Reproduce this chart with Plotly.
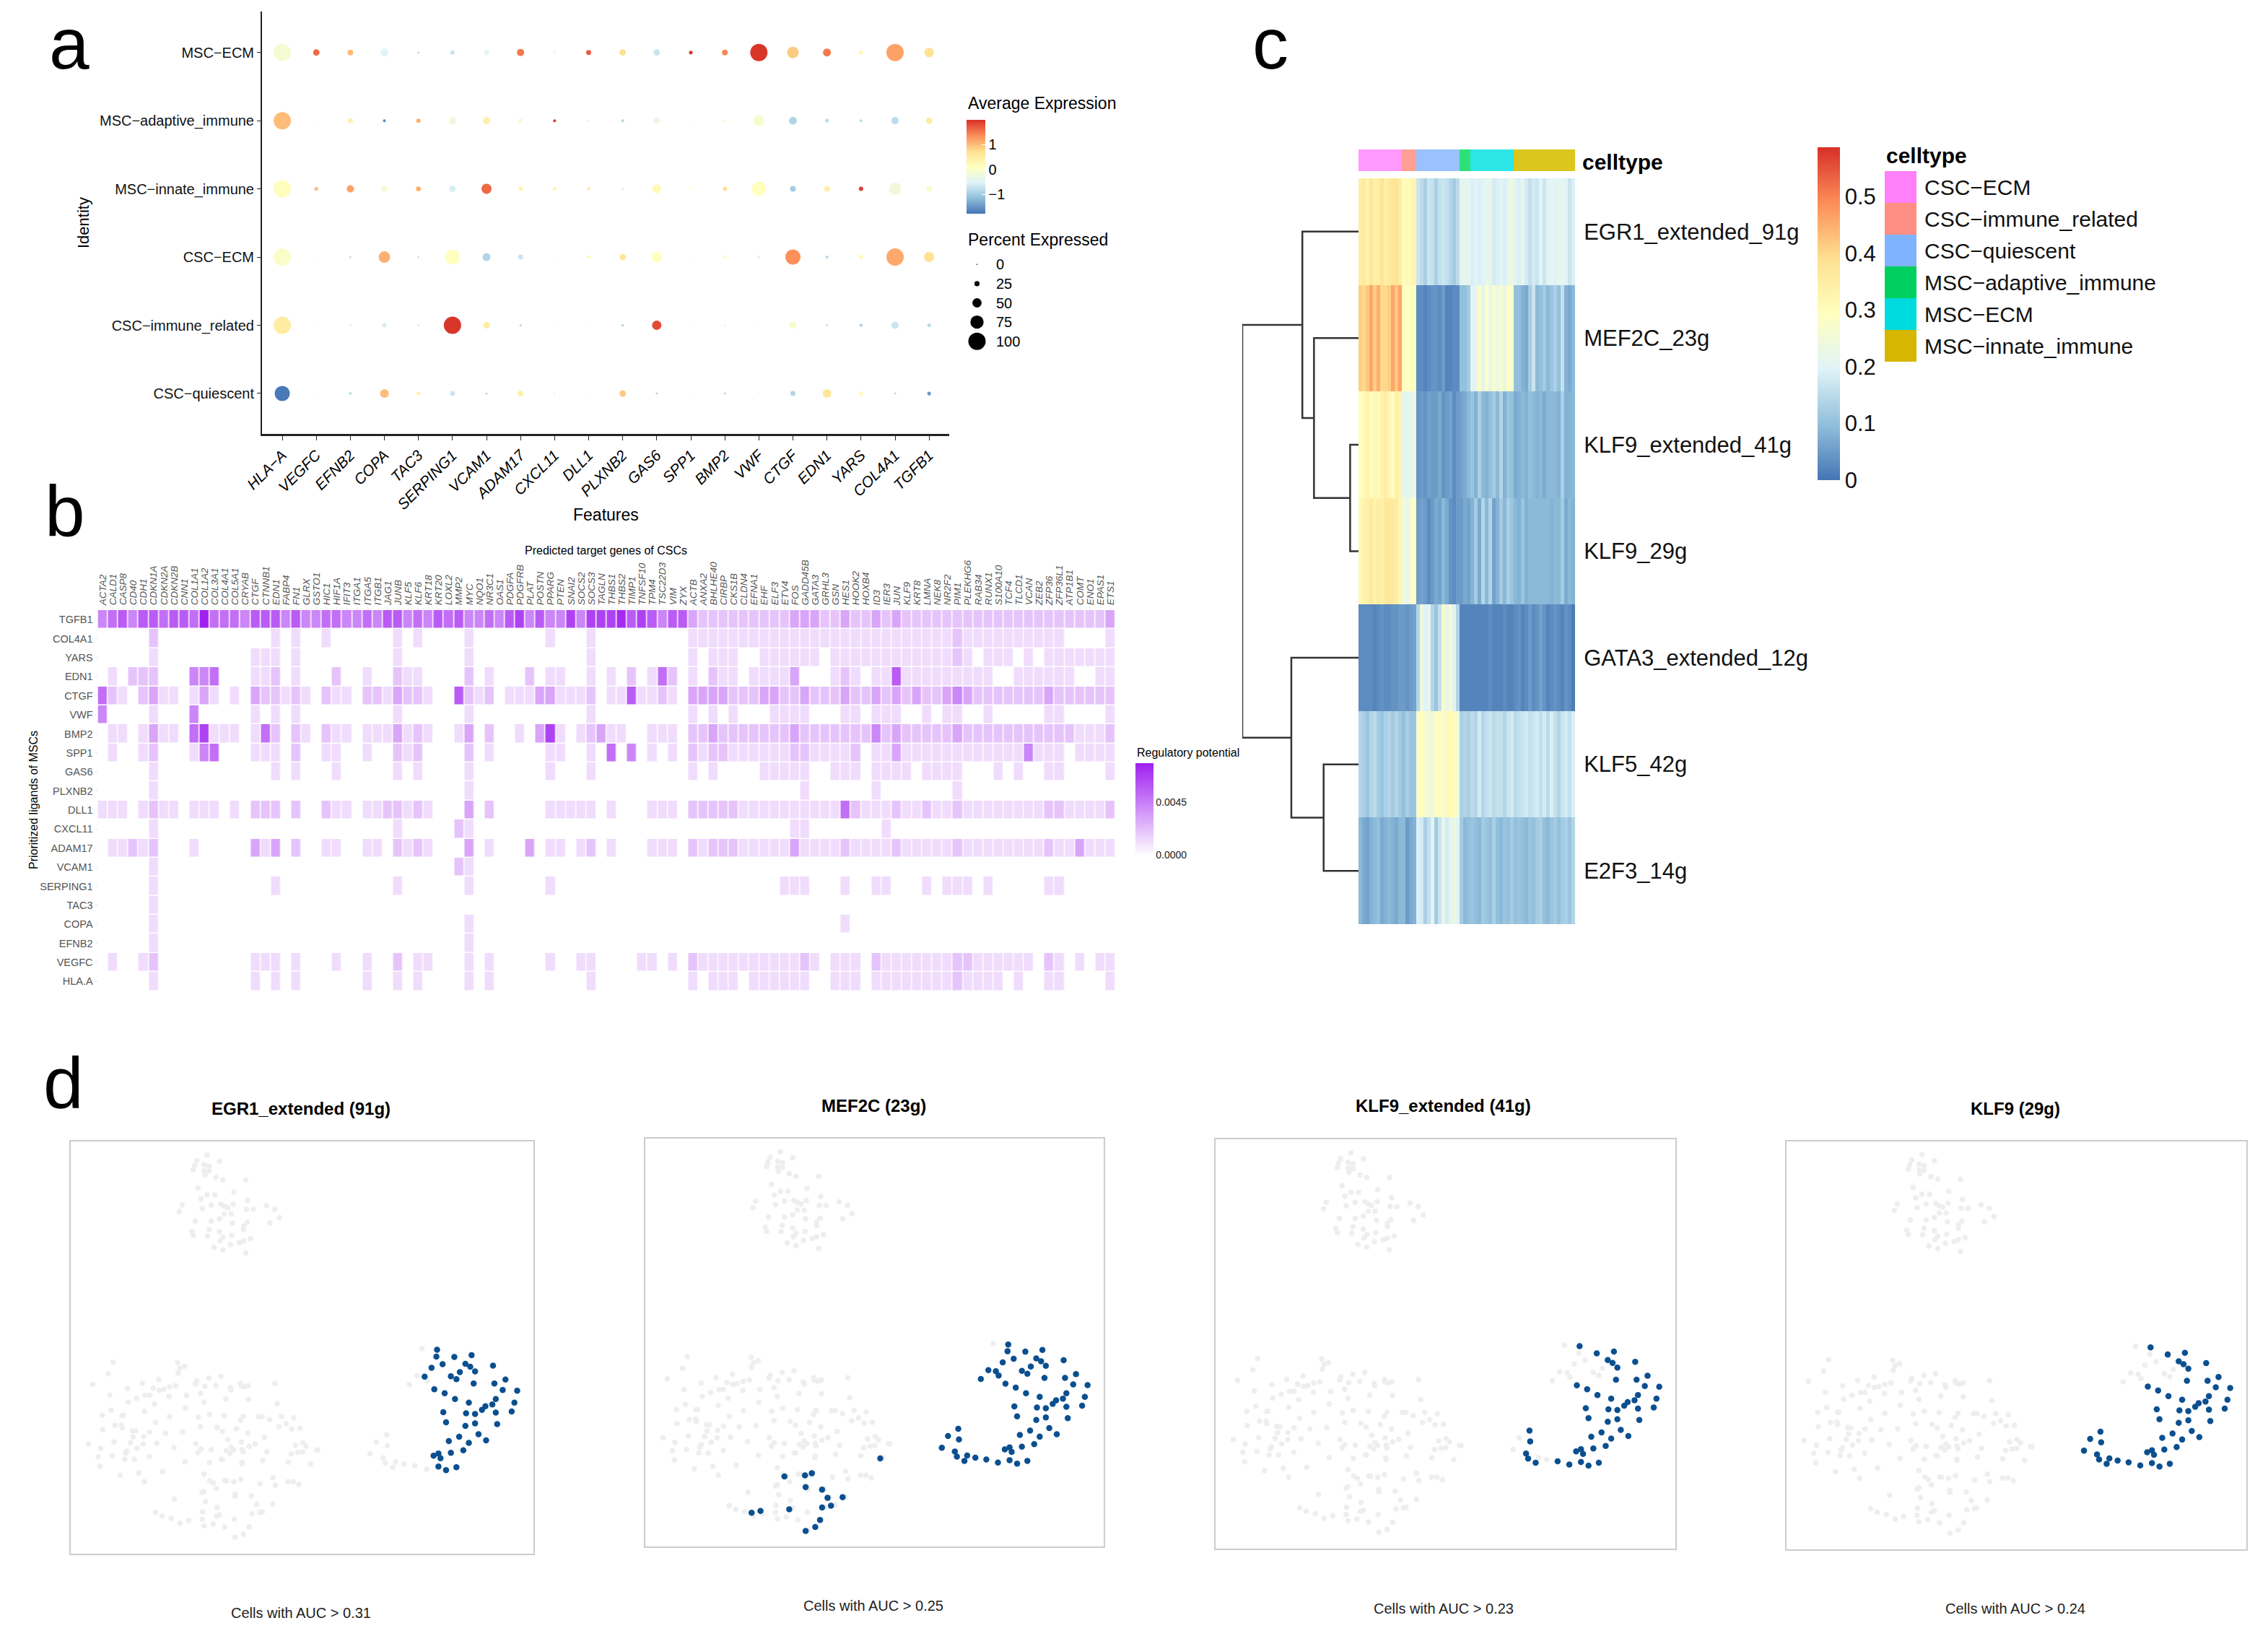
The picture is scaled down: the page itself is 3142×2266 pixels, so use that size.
import numpy as np
import plotly.graph_objects as go

W, H = 3142, 2266
FONT = "Liberation Sans"

# ---------- panel a ----------
features = ["HLA\u2212A","VEGFC","EFNB2","COPA","TAC3","SERPING1","VCAM1","ADAM17","CXCL11","DLL1","PLXNB2","GAS6","SPP1","BMP2","VWF","CTGF","EDN1","YARS","COL4A1","TGFB1"]
identities = ["CSC\u2212quiescent","CSC\u2212immune_related","CSC\u2212ECM","MSC\u2212innate_immune","MSC\u2212adaptive_immune","MSC\u2212ECM"]
pct_msc_ecm = [100,33,29,42,7,20,24,38,7,24,33,33,16,29,100,64,42,20,100,51]
pct_msc_ada = [100,2,24,11,20,38,38,20,11,7,11,33,2,11,60,42,16,11,38,33]
pct_msc_inn = [100,16,38,33,24,33,56,20,16,11,7,47,7,20,82,29,29,20,69,29]
pct_csc_ecm = [100,2,7,64,7,87,42,24,2,16,33,60,2,16,11,87,11,20,100,56]
pct_csc_imm = [100,2,7,20,7,100,33,7,2,2,7,51,2,7,2,38,7,11,38,16]
pct_csc_qui = [87,2,11,47,16,24,7,29,7,2,33,7,2,7,2,24,47,20,7,16]
exp_msc_ecm = [-0.1,1.6,1.0,-0.5,-0.8,-0.7,-0.5,1.5,-0.5,1.7,0.7,-0.7,1.95,1.4,1.95,0.9,1.5,0.2,1.2,0.7]
exp_msc_ada = [1.0,-0.3,0.4,-1.6,1.1,-0.2,0.4,-0.1,1.95,-0.5,-0.9,-0.3,0.0,0.0,-0.05,-0.9,-0.8,-0.8,-0.8,0.5]
exp_msc_inn = [0.15,1.0,1.2,-0.1,1.1,-0.6,1.6,0.3,0.3,0.6,-0.6,0.2,0.2,0.7,0.1,-1.0,0.4,1.9,-0.2,-0.05]
exp_csc_ecm = [0.0,-0.3,-0.8,1.1,-0.7,0.1,-0.9,-0.7,-0.3,0.2,0.6,0.1,0.0,0.0,-0.5,1.35,-0.9,0.2,1.15,0.7]
exp_csc_imm = [0.5,-0.2,-0.6,-0.6,-0.6,1.95,0.5,-0.9,-0.2,-0.3,-1.0,1.8,-0.1,-0.5,-0.3,-0.05,-0.7,-1.0,-0.7,-0.8]
exp_csc_qui = [-1.75,-0.2,-0.8,1.0,0.4,-0.7,-0.9,0.4,-0.3,-0.3,0.9,-0.9,-0.1,-0.9,-0.4,-0.9,0.6,0.2,-0.8,-1.5]
pct_rows = [pct_csc_qui,pct_csc_imm,pct_csc_ecm,pct_msc_inn,pct_msc_ada,pct_msc_ecm]
exp_rows = [exp_csc_qui,exp_csc_imm,exp_csc_ecm,exp_msc_inn,exp_msc_ada,exp_msc_ecm]
size_legend = [0,25,50,75,100]

# ---------- panel b ----------
target_genes = ["ACTA2","CALD1","CASP8","CD40","CDH1","CDKN1A","CDKN2A","CDKN2B","CNN1","COL1A1","COL1A2","COL3A1","COL4A1","COL5A1","CRYAB","CTGF","CTNNB1","EDN1","FABP4","FN1","GLRX","GSTO1","HIC1","HIF1A","IFIT3","ITGA1","ITGA5","ITGB1","JAG1","JUNB","KLF5","KLF6","KRT18","KRT20","LOXL2","MMP2","MYC","NQO1","NR3C1","OAS1","PDGFA","PDGFRB","PLAT","POSTN","PPARG","PTEN","SNAI2","SOCS2","SOCS3","TAGLN","THBS1","THBS2","TIMP1","TNFSF10","TPM4","TSC22D3","VIM","ZYX","ACTB","ANXA2","BHLHE40","CIRBP","CKS1B","CLDN4","EFNA1","EHF","ELF3","ETV4","FOS","GADD45B","GATA3","GRHL3","GSN","HES1","HOOK2","HOXB4","ID3","IER3","JUN","KLF9","KRT8","LMNA","NEK8","NR2F2","PIM1","PLEKHG6","RAB34","RUNX1","S100A10","TCF4","TLCD1","VCAN","ZEB2","ZFP36","ZFP36L1","ATP1B1","COMT","ENO1","EPAS1","ETS1"]
ligands = ["TGFB1","COL4A1","YARS","EDN1","CTGF","VWF","BMP2","SPP1","GAS6","PLXNB2","DLL1","CXCL11","ADAM17","VCAM1","SERPING1","TAC3","COPA","EFNB2","VEGFC","HLA.A"]
potential_levels = [0,0.00125,0.0021,0.0032,0.0043,0.0051,0.0058,0.0067,0.0071,0.0075,0.0079]
TGFB1 = dict(enumerate([4,5,6,4,6,6,5,6,6,5,10,5,5,5,4,6,6,6,4,6,4,4,5,5,4,4,5,4,6,6,4,5,4,6,5,6,4,4,5,4,6,7,4,6,4,4,7,4,7,7,7,9,6,7,6,4,6,6,3,2,2,2,2,2,2,2,2,2,3,3,3,2,2,3,2,2,3,2,3,2,2,2,2,2,2,2,2,2,2,2,2,2,2,2,2,2,2,2,2,3]))
COL4A1 = {5:2,17:1,19:1,22:1,29:1,31:1,36:1,44:1,48:1,58:1,59:1,60:1,61:1,62:1,63:1,64:1,65:1,66:1,67:1,68:1,69:1,70:1,71:1,72:1,73:1,74:1,75:1,76:1,77:1,78:1,79:1,80:1,81:1,82:1,83:1,84:2,85:1,86:1,87:1,88:1,89:1,90:1,91:1,92:1,93:1,94:1,99:1}
YARS = {5:1,15:1,16:1,17:1,19:1,29:1,36:1,48:1,58:1,60:1,61:1,62:1,65:1,66:1,67:1,68:1,69:1,70:1,72:1,73:1,74:1,75:1,76:1,77:1,78:1,79:1,80:1,81:1,82:1,83:1,84:2,85:1,87:1,88:1,89:1,91:1,93:1,94:1,95:1,96:1,97:1,98:1,99:1}
EDN1 = {1:1,3:2,4:2,5:2,9:4,10:4,11:5,15:1,16:1,17:2,19:1,23:2,26:1,29:2,30:1,31:1,36:2,38:1,42:2,44:1,45:1,48:1,50:1,52:2,54:1,55:5,56:2,58:1,60:2,61:1,62:1,64:1,65:1,66:1,67:1,68:3,72:1,73:2,74:1,76:1,77:1,78:6,79:1,80:1,81:1,82:1,83:1,84:1,85:1,86:1,87:1,90:1,91:1,92:1,93:1,94:1,95:1,98:1,99:1}
CTGF = {0:5,1:2,2:1,4:2,5:3,6:1,7:1,9:1,10:3,11:1,13:1,15:3,16:2,17:2,18:1,19:2,20:1,22:2,23:1,24:1,26:2,27:2,28:1,29:3,30:2,31:2,32:1,35:6,36:2,37:1,38:2,40:1,41:1,42:1,43:3,44:3,45:1,46:1,47:1,48:2,50:1,51:1,52:6,53:1,54:1,55:2,56:1,58:3,59:3,60:3,61:3,62:2,63:2,64:2,65:3,66:3,67:2,68:2,69:3,70:2,71:2,72:2,73:3,74:2,75:2,76:3,77:2,78:3,79:2,80:3,81:2,82:2,83:3,84:4,85:3,86:2,87:2,88:2,89:2,90:2,91:2,92:2,93:3,94:2,95:2,96:2,97:2,98:2,99:2}
VWF = {0:4,5:1,9:4,15:1,17:1,19:1,29:1,36:1,48:1,58:1,60:1,62:1,66:1,67:1,68:1,69:1,73:1,74:1,76:1,77:1,78:1,81:1,83:1,84:1,87:1,93:1,94:1,99:1}
BMP2 = {1:1,2:1,4:1,5:3,6:1,7:1,9:5,10:7,11:1,12:1,13:1,15:1,16:5,17:2,19:2,20:1,22:2,23:1,24:1,26:1,27:1,28:1,29:3,30:1,31:2,32:1,35:1,36:3,38:2,41:1,43:3,44:7,45:1,47:1,48:2,49:3,50:1,51:1,54:1,55:1,56:1,58:2,59:2,60:3,61:2,62:2,63:2,64:2,65:2,66:2,67:2,68:3,69:2,70:2,71:2,72:2,73:2,74:2,75:2,76:4,77:2,78:3,79:2,80:2,81:2,82:2,83:2,84:3,85:2,86:2,87:2,88:2,89:2,90:2,91:2,92:2,93:2,94:2,95:2,96:1,97:1,98:1,99:2}
SPP1 = {1:1,4:1,5:2,9:1,10:4,11:5,15:1,16:1,17:1,19:2,22:1,23:1,26:1,29:2,30:1,31:2,36:2,38:1,44:1,45:1,48:1,50:5,52:4,54:1,56:1,58:2,59:1,60:2,61:2,62:1,63:1,64:1,65:1,66:1,67:1,68:2,69:2,70:1,71:1,72:1,73:1,74:2,76:1,77:1,78:3,79:1,80:1,81:1,82:1,83:1,84:1,85:1,86:1,87:1,88:1,89:1,90:1,91:4,92:1,93:1,94:1,96:1,97:1,98:1,99:1}
GAS6 = {5:1,17:1,19:1,23:1,29:1,31:1,36:1,44:1,48:1,58:1,60:1,65:1,66:1,67:1,68:1,69:1,72:1,73:1,74:1,76:1,77:1,78:1,79:1,81:1,82:1,83:1,84:1,88:1,90:1,93:1,94:1,99:1}
PLXNB2 = {5:1,36:1,69:1,76:1,84:1}
DLL1 = {0:1,1:1,2:1,4:1,5:2,6:1,7:1,9:1,10:1,11:1,13:1,15:2,16:2,17:2,19:2,22:2,23:1,24:1,26:1,27:1,28:2,29:2,30:1,31:2,32:1,36:3,38:2,44:1,45:1,46:1,47:1,48:1,50:1,54:1,55:1,56:1,58:2,59:2,60:2,61:2,62:2,63:1,64:1,65:1,66:1,67:1,68:1,69:1,70:1,71:1,72:1,73:5,74:2,75:1,76:1,77:1,78:2,79:1,80:1,81:2,82:1,83:1,84:2,85:1,86:1,87:1,88:1,89:1,90:1,91:1,92:1,93:2,94:2,95:1,96:1,97:1,98:1,99:2}
CXCL11 = {5:1,29:1,35:2,36:1,68:1,69:1,77:1}
ADAM17 = {1:1,2:1,3:2,4:1,5:2,9:1,15:3,16:1,17:3,19:2,22:1,23:1,26:1,27:1,29:2,30:1,31:2,32:1,36:3,38:1,42:3,44:1,45:1,47:1,48:2,50:1,54:1,55:1,56:1,58:2,59:1,60:2,61:2,62:2,63:1,64:1,65:1,66:1,67:1,68:3,69:1,70:1,71:1,72:1,73:2,74:1,75:1,76:1,77:1,78:2,79:1,80:1,81:1,82:1,83:1,84:2,85:1,86:1,87:1,88:1,89:1,90:1,91:1,92:1,93:2,94:1,95:1,96:3,97:1,98:1,99:1}
VCAM1 = {5:1,35:2,36:1}
SERPING1 = {5:1,17:1,29:1,36:1,44:1,67:1,68:1,69:1,73:1,76:1,77:1,81:1,83:1,84:1,85:1,87:1,93:1,94:1}
TAC3 = {5:1}
COPA = {5:1,36:1,73:1}
EFNB2 = {5:1,36:1}
VEGFC = {1:1,4:1,5:2,15:1,16:1,17:1,19:1,23:1,26:1,29:2,31:1,32:1,36:1,38:1,44:1,47:1,48:1,53:1,54:1,56:1,58:2,59:1,60:1,61:1,62:1,63:1,64:1,65:1,66:1,67:1,68:1,69:2,70:1,72:1,73:1,74:1,76:2,77:1,78:1,79:1,80:1,81:1,82:1,83:1,84:2,85:2,86:1,87:1,88:1,89:1,90:1,91:1,93:2,94:1,96:1,98:1,99:1}
HLA_A = {5:1,15:1,17:1,19:1,26:1,29:1,31:1,36:1,38:1,48:1,58:1,60:1,61:1,62:1,64:1,65:1,66:1,67:1,68:1,69:1,72:1,73:1,74:1,76:1,77:1,78:1,79:1,80:1,81:1,82:1,83:1,84:2,85:1,86:1,87:1,88:1,90:1,93:1,94:1,99:1}
ligand_rows = [TGFB1,COL4A1,YARS,EDN1,CTGF,VWF,BMP2,SPP1,GAS6,PLXNB2,DLL1,CXCL11,ADAM17,VCAM1,SERPING1,TAC3,COPA,EFNB2,VEGFC,HLA_A]

# ---------- panel c ----------
regulons = ["EGR1_extended_91g","MEF2C_23g","KLF9_extended_41g","KLF9_29g","GATA3_extended_12g","KLF5_42g","E2F3_14g"]
celltypes = ["CSC\u2212ECM","CSC\u2212immune_related","CSC\u2212quiescent","MSC\u2212adaptive_immune","MSC\u2212ECM","MSC\u2212innate_immune"]
cells_per_type = [12,4,12,3,12,17]
auc_egr1 = [.35,.36,.33,.37,.34,.35,.38,.34,.36,.37,.38,.35,.30,.31,.31,.33,.17,.15,.13,.17,.16,.13,.16,.17,.16,.14,.12,.15,.21,.21,.21,.19,.2,.19,.2,.21,.22,.18,.19,.2,.19,.21,.24,.2,.19,.22,.18,.16,.18,.17,.2,.17,.2,.21,.2,.21,.22,.2,.17,.19]
auc_mef2c = [.41,.40,.42,.46,.41,.45,.40,.40,.41,.46,.42,.46,.29,.29,.30,.28,.03,.03,.02,.03,.04,.04,.03,.05,.02,.02,.03,.03,.1,.1,.12,.2,.21,.28,.2,.29,.22,.27,.24,.26,.23,.29,.27,.1,.1,.08,.07,.12,.17,.09,.1,.12,.09,.11,.13,.1,.16,.08,.07,.09]
auc_klf9e = [.29,.31,.33,.30,.32,.31,.33,.35,.32,.30,.34,.33,.22,.21,.22,.23,.04,.05,.04,.06,.05,.05,.07,.04,.05,.06,.03,.05,.06,.07,.09,.11,.08,.13,.09,.08,.1,.12,.09,.14,.08,.11,.1,.07,.08,.09,.08,.1,.09,.08,.09,.07,.09,.09,.09,.08,.13,.08,.08,.09]
auc_klf9 = [.31,.33,.34,.36,.33,.35,.34,.36,.37,.36,.35,.32,.25,.22,.27,.29,.05,.06,.05,.03,.05,.07,.06,.09,.07,.04,.03,.05,.05,.07,.06,.08,.12,.07,.14,.09,.14,.06,.08,.12,.09,.13,.11,.09,.08,.11,.08,.09,.09,.09,.09,.09,.09,.08,.09,.09,.12,.07,.09,.08]
auc_gata3 = [.03,.03,.03,.03,.02,.03,.04,.03,.03,.04,.04,.05,.05,.04,.05,.06,.14,.24,.2,.21,.14,.11,.16,.27,.22,.26,.2,.14,.02,.02,.02,.02,.02,.02,.02,.02,.03,.02,.02,.02,.03,.02,.02,.03,.04,.02,.03,.05,.03,.04,.06,.04,.02,.03,.04,.03,.02,.04,.03,.01]
auc_klf5 = [.14,.13,.11,.14,.15,.12,.11,.13,.14,.12,.14,.12,.1,.13,.11,.11,.28,.3,.27,.26,.24,.28,.3,.27,.31,.31,.3,.26,.13,.14,.13,.15,.14,.18,.14,.16,.17,.15,.16,.16,.14,.17,.18,.15,.16,.17,.18,.16,.17,.18,.16,.18,.15,.19,.16,.14,.17,.18,.16,.19]
auc_e2f3 = [.09,.07,.06,.08,.09,.1,.07,.08,.09,.08,.07,.09,.09,.05,.07,.08,.19,.18,.13,.16,.2,.12,.17,.22,.18,.21,.23,.2,.12,.09,.1,.11,.1,.09,.12,.11,.1,.13,.1,.09,.11,.1,.12,.1,.11,.1,.09,.11,.1,.12,.13,.1,.09,.11,.12,.1,.12,.13,.11,.14]
auc_rows = [auc_egr1,auc_mef2c,auc_klf9e,auc_klf9,auc_gata3,auc_klf5,auc_e2f3]
# dendrogram merges: (child a, child b, height); children >= 7 refer to earlier merges
merges = [(2,3,.072),(1,7,.383),(0,8,.483),(5,6,.3),(4,10,.578),(9,11,1.0)]

# ---------- panel d: embedding ----------
left_cluster = [(200,80),(180,128),(116,172),(259,190),(186,217),(263,246),(298,230),(321,168),(367,188),(390,153),(392,197),(410,193),(435,183),(460,178),(333,218),(352,217),(372,254),(433,222),(330,284),(192,280),(155,301),(237,302),(243,301),(208,343),(235,342),(238,353),(157,361),(280,365),(293,366),(283,391),(327,390),(352,371),(376,331),(435,306),(418,375),(489,370),(500,271),(505,218),(468,82),(497,97),(478,105),(470,125),(548,158),(543,170),(598,146),(648,139),(581,181),(627,176),(564,209),(578,247),(687,185),(690,195),(669,233),(730,168),(732,178),(748,182),(762,178),(763,235),(873,168),(882,252),(554,308),(600,297),(662,302),(564,348),(632,351),(654,368),(713,356),(741,305),(730,322),(760,375),(806,306),(820,306),(851,319),(899,306),(951,312),(890,348),(919,336),(942,358),(977,355),(98,419),(148,439),(204,412),(138,473),(197,469),(146,513),(248,483),(288,484),(258,450),(252,458),(273,415),(300,438),(325,420),(381,417),(351,473),(453,435),(229,550),(307,540),(330,577),(405,535),(499,494),(544,419),(565,441),(553,455),(608,444),(600,498),(650,483),(655,484),(677,402),(733,412),(690,433),(670,448),(702,444),(686,459),(737,443),(741,454),(736,497),(736,503),(765,430),(790,420),(829,393),(839,452),(822,488),(957,425),(988,415),(1002,429),(967,455),(987,453),(940,461),(928,496),(1020,503),(1045,445),(1050,445),(578,545),(602,572),(617,582),(630,605),(665,572),(672,573),(702,577),(731,567),(810,585),(864,560),(874,592),(927,577),(949,577),(972,588),(570,622),(578,617),(707,628),(707,637),(775,636),(455,649),(584,659),(632,684),(797,671),(864,669),(376,705),(403,720),(441,730),(478,749),(514,738),(572,703),(570,733),(578,760),(615,752),(630,720),(642,715),(664,765),(704,733),(778,710),(810,705),(820,702),(765,765),(742,795),(707,808)]
top_cluster = [(237,241),(222,257),(255,258),(219,270),(233,268),(240,272),(217,282),(233,284),(240,285),(234,296),(250,303),(260,310),(293,310),(224,333),(276,344),(237,352),(248,352),(228,363),(296,367),(243,380),(257,378),(262,384),(201,380),(230,390),(197,398),(267,388),(275,378),(294,392),(304,392),(323,382),(335,392),(342,415),(328,430),(262,405),(272,405),(220,425),(243,425),(255,418),(295,428),(274,430),(290,438),(240,448),(215,453),(255,455),(290,448),(238,466),(217,465),(260,470),(273,465),(300,474),(290,480),(284,485),(256,480),(247,498),(260,505),(293,513),(271,490)]
right_core = [(570,783),(620,798),(595,803),(611,822),(618,830),(625,843),(651,827),(623,877),(653,877),(669,866),(566,893),(581,904),(665,895),(686,897),(596,920),(616,930),(655,920),(682,930),(640,940),(650,935),(635,950),(655,958),(678,955),(579,957),(612,960),(625,962),(583,985),(611,995),(625,988),(657,990),(602,1025),(630,1018),(587,1037),(616,1042),(641,1035),(608,1063),(572,1072),(590,1070),(565,1078),(575,1085),(572,1108),(583,1118),(598,1110)]
right_upper = [(569,802),(562,833),(552,858),(578,823),(590,857),(598,865),(603,845)]
tail_all = [(497,1020),(498,1050),(492,1084),(495,1098),(506,1110),(538,1106),(555,1115)]
tail_some = [(482,1040),(473,1073),(510,1095),(522,1101)]
right_extra = [(530,880),(541,855),(556,870)]
always_grey = [(548,780)]
lower_mef2c = [(243,1154),(273,1151),(283,1145),(274,1184),(298,1191),(306,1214),(328,1212),(311,1236),(298,1241),(250,1246),(295,1276),(288,1296),(274,1307),(195,1256),(208,1251),(383,1103)]
panel_titles = ["EGR1_extended (91g)","MEF2C (23g)","KLF9_extended (41g)","KLF9 (29g)"]
panel_auc = ["0.31","0.25","0.23","0.24"]

# ---------- helpers ----------
fig = go.Figure()
layout = {}
annotations = []
_n = [0]

def axes(x0, x1, y0, y1, xa=None, ya=None):
    _n[0] += 1
    n = "" if _n[0] == 1 else str(_n[0])
    base = dict(showgrid=False, zeroline=False, visible=False)
    xd = dict(base); xd.update(xa or {})
    yd = dict(base); yd.update(ya or {})
    xd.update(domain=[x0 / W, x1 / W], anchor="y" + n)
    yd.update(domain=[1 - y1 / H, 1 - y0 / H], anchor="x" + n)
    layout["xaxis" + n] = xd
    layout["yaxis" + n] = yd
    return "x" + n, "y" + n

def label(px, py, text, size, xanchor="left", color="black", bold=False, angle=0, italic=False):
    t = f"<b>{text}</b>" if bold else text
    annotations.append(dict(xref="paper", yref="paper", x=px / W, y=1 - py / H, text=t, showarrow=False,
                            xanchor=xanchor, yanchor="middle", textangle=angle,
                            font=dict(family=FONT, size=size, color=color)))

def dia(p):
    return 1.5 + 0.225 * np.asarray(p, dtype=float)

RDYLBU = [[0, "#4575b4"], [1/6, "#91bfdb"], [2/6, "#e0f3f8"], [3/6, "#ffffbf"], [4/6, "#fee090"], [5/6, "#fc8d59"], [1, "#d73027"]]

# ---------- panel a draw ----------
xa, ya = axes(363, 1315, 16, 601,
    dict(visible=True, type="category", categoryorder="array", categoryarray=features, range=[-0.594, 19.59],
         showline=True, linecolor="#222", linewidth=3, ticks="outside", ticklen=6, tickcolor="#222",
         tickangle=-45, tickfont=dict(family=FONT, size=21, color="black", style="italic")),
    dict(visible=True, type="category", categoryorder="array", categoryarray=identities, range=[-0.593, 5.6],
         showline=True, linecolor="#222", linewidth=2, ticks="outside", ticklen=5, tickcolor="#222",
         tickfont=dict(family=FONT, size=20, color="#111")))
for i, idn in enumerate(identities):
    fig.add_trace(go.Scatter(x=features, y=[idn] * 20, mode="markers", xaxis=xa, yaxis=ya, showlegend=False,
        marker=dict(size=dia(pct_rows[i]), sizemode="diameter", opacity=1, color=exp_rows[i], colorscale=RDYLBU,
                    cmin=-1.78, cmax=1.99, line=dict(width=0),
                    showscale=(i == 0),
                    colorbar=dict(x=1339 / W, xanchor="left", xpad=0, y=1 - 296 / H, yanchor="bottom", ypad=0,
                                  len=130, lenmode="pixels", thickness=26, thicknessmode="pixels", outlinewidth=0,
                                  tickvals=[-1, 0, 1], ticktext=["\u22121", "0", "1"], ticks="inside", ticklen=5, tickcolor="white",
                                  tickfont=dict(family=FONT, size=20, color="black")) if i == 0 else None)))
label(839, 713, "Features", 23, "center")
label(115, 309, "Identity", 22, "center", angle=-90)
label(1339, 143, "Average Expression", 23)
label(1339, 332, "Percent Expressed", 23)
xs, ys = axes(1340, 1367, 353, 486,
    dict(range=[-1, 1]),
    dict(visible=True, type="category", categoryorder="array", categoryarray=[str(v) for v in size_legend[::-1]],
         side="right", range=[-0.5, 4.5], showline=False, ticks="outside", ticklen=8, tickcolor="white",
         tickfont=dict(family=FONT, size=20, color="black")))
fig.add_trace(go.Scatter(x=[0] * 5, y=[str(v) for v in size_legend], mode="markers", xaxis=xs, yaxis=ys, showlegend=False,
                         marker=dict(size=dia(size_legend), sizemode="diameter", opacity=1, color="black", line=dict(width=0))))

# ---------- panel b draw ----------
z_b = [[potential_levels[row.get(c, 0)] for c in range(100)] for row in ligand_rows]
xb, yb = axes(135.5, 1545.5, 845, 1372.5,
    dict(visible=True, side="top", type="category", categoryorder="array", categoryarray=target_genes, tickangle=-90,
         ticks="outside", ticklen=3, tickcolor="#e5e5e5", showline=False, dtick=1,
         tickfont=dict(family=FONT, size=13.5, color="#555", style="italic")),
    dict(visible=True, type="category", categoryorder="array", categoryarray=ligands, autorange="reversed",
         ticks="outside", ticklen=3, tickcolor="#e5e5e5", showline=False, dtick=1,
         tickfont=dict(family=FONT, size=14.5, color="#555")))
fig.add_trace(go.Heatmap(z=z_b, x=target_genes, y=ligands, xaxis=xb, yaxis=yb, xgap=1.5, ygap=1.5, zmin=0, zmax=0.0079,
    colorscale=[[0, "#ffffff"], [1, "#A020F0"]], hoverongaps=False,
    colorbar=dict(x=1573 / W, xanchor="left", xpad=0, y=1 - 1184.5 / H, yanchor="bottom", ypad=0, len=128, lenmode="pixels",
                  thickness=25, thicknessmode="pixels", outlinewidth=0, tickvals=[0, 0.0045], ticktext=["0.0000", "0.0045"],
                  ticks="", tickfont=dict(family=FONT, size=14, color="#222"))))
label(840, 762, "Predicted target genes of CSCs", 16, "center")
label(46, 1108, "Prioritized ligands of MSCs", 16, "center", angle=-90)
label(1573, 1042, "Regulatory potential", 16)

# ---------- panel c draw ----------
col_type = [i for i, n in enumerate(cells_per_type) for _ in range(n)]
bar_colors = ["#FF99FF", "#FF9F94", "#99C2FF", "#2EE078", "#2EE5E5", "#DCC61E"]
leg_colors = ["#FF80F8", "#FF8F85", "#80B3FF", "#00D060", "#00DBE0", "#D6B600"]
def discrete(cols):
    return [[i / (len(cols) - 1), c] for i, c in enumerate(cols)]

xbar, ybar = axes(1882, 2182, 207, 237)
fig.add_trace(go.Heatmap(z=[col_type], xaxis=xbar, yaxis=ybar, zmin=0, zmax=5, colorscale=discrete(bar_colors), showscale=False))
label(2190, 224, "celltype", 30, bold=True)

xh, yh = axes(1882, 2182, 247, 1280,
    dict(range=[-0.5, 59.5]),
    dict(visible=True, type="category", categoryorder="array", categoryarray=regulons, autorange="reversed", side="right",
         ticks="outside", ticklen=5, tickcolor="white", showline=False,
         tickfont=dict(family=FONT, size=31, color="#111")))
fig.add_trace(go.Heatmap(z=auc_rows, x=list(range(60)), y=regulons, xaxis=xh, yaxis=yh, zmin=0, zmax=0.587, colorscale=RDYLBU,
    colorbar=dict(x=2517.5 / W, xanchor="left", xpad=0, y=1 - 665 / H, yanchor="bottom", ypad=0, len=461, lenmode="pixels",
                  thickness=30.5, thicknessmode="pixels", outlinewidth=0, tickvals=[0, .1, .2, .3, .4, .5],
                  ticktext=["0", "0.1", "0.2", "0.3", "0.4", "0.5"], ticks="", tickfont=dict(family=FONT, size=31, color="#111"))))

# dendrogram built from the merge list
pos = {i: (float(i), 0.0) for i in range(7)}
dx, dy = [], []
for k, (a, b, h) in enumerate(merges):
    ya_, ha = pos[a]; yb_, hb = pos[b]
    dx += [ha, h, h, hb, None]
    dy += [ya_, ya_, yb_, yb_, None]
    pos[7 + k] = ((ya_ + yb_) / 2, h)
xd, yd = axes(1721, 1882, 247, 1280, dict(range=[1.0, 0.0]), dict(range=[6.5, -0.5]))
fig.add_trace(go.Scatter(x=dx, y=dy, mode="lines", xaxis=xd, yaxis=yd, showlegend=False,
                         line=dict(color="#333333", width=2.5)))

xl, yl = axes(2611, 2655, 237, 501,
    dict(range=[-0.5, 0.5]),
    dict(visible=True, type="category", categoryorder="array", categoryarray=celltypes, autorange="reversed", side="right",
         ticks="outside", ticklen=4, tickcolor="white", showline=False,
         tickfont=dict(family=FONT, size=30, color="#111")))
fig.add_trace(go.Heatmap(z=[[i] for i in range(6)], x=[0], y=celltypes, xaxis=xl, yaxis=yl, zmin=0, zmax=5,
                         colorscale=discrete(leg_colors), showscale=False))
label(2611, 216, "celltype", 30, bold=True)

# ---------- panel d draw ----------
def common(points, kind):
    if kind == "left":
        return list(points)
    return [(2.871 * x - 90, 1.4925 * y - 1140) for x, y in points]

boxes = [(98, 739, 1581, 2152), (894, 1529, 1576.5, 2142), (1684, 2321, 1578, 2145), (2475, 3112, 1580.5, 2146)]
title_pos = [(417, 1535), (1210, 1531), (2000, 1531), (2792, 1535)]
caption_pos = [(417, 2234), (1210, 2224), (2000, 2228), (2792, 2228)]
blue_groups = [
    [right_core, right_upper],
    [right_core, right_upper, tail_all, tail_some, right_extra, lower_mef2c],
    [right_core, tail_all],
    [right_core, tail_all, tail_some],
]
grey_always = common(left_cluster, "left") + common(top_cluster, "z5") + common(always_grey, "z5")
right_groups = [right_core, right_upper, tail_all, tail_some, right_extra]
for k in range(4):
    x0, x1, y0, y1 = boxes[k]
    frame = dict(visible=True, showline=True, mirror=True, linecolor="#cccccc", linewidth=2, ticks="", showticklabels=False)
    xp, yp = axes(x0, x1, y0, y1, dict(frame, range=[24, 1947]), dict(frame, range=[876, -837]))
    grey = list(grey_always)
    for g in right_groups:
        if not any(g is b for b in blue_groups[k]):
            grey += common(g, "z5")
    blue = []
    for g in blue_groups[k]:
        blue += common(g, "z5")
    fig.add_trace(go.Scatter(x=[p[0] for p in grey], y=[p[1] for p in grey], mode="markers", xaxis=xp, yaxis=yp, showlegend=False,
                             marker=dict(size=7.5, color="#eeeeee", line=dict(width=0))))
    fig.add_trace(go.Scatter(x=[p[0] for p in blue], y=[p[1] for p in blue], mode="markers", xaxis=xp, yaxis=yp, showlegend=False,
                             marker=dict(size=8.5, color="#0B4F8F", line=dict(width=0))))
    label(title_pos[k][0], title_pos[k][1], panel_titles[k], 24, "center", bold=True)
    label(caption_pos[k][0], caption_pos[k][1], "Cells with AUC > " + panel_auc[k], 20, "center", color="#222")

for txt, px, py in [("a", 96, 60), ("b", 90, 708), ("c", 1760, 60), ("d", 88, 1500)]:
    label(px, py, txt, 100, "center")

fig.update_layout(width=W, height=H, autosize=False, margin=dict(l=0, r=0, t=0, b=0, pad=0, autoexpand=False), showlegend=False,
                  paper_bgcolor="white", plot_bgcolor="white", annotations=annotations, font=dict(family=FONT), **layout)
fig.write_html("out.html", config={"displayModeBar": False}, post_script="document.body.style.margin='0';")
